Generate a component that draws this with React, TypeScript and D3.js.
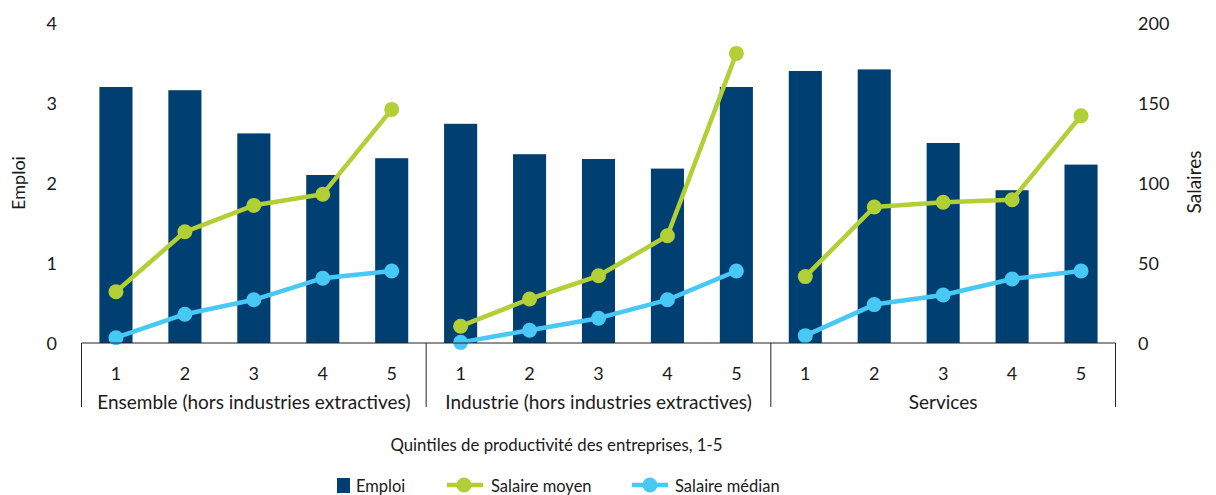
import React from 'react';
import * as d3 from 'd3';

const groups = ['Ensemble (hors industries extractives)', 'Industrie (hors industries extractives)', 'Services'];
const quintiles = ['1', '2', '3', '4', '5'];
const emploi = [3.2, 3.16, 2.62, 2.1, 2.31, 2.74, 2.36, 2.3, 2.18, 3.2, 3.4, 3.42, 2.5, 1.91, 2.23];
const salaireMoyen = [32, 69.5, 86, 93, 146, 10.5, 27.5, 42, 67, 181, 41.5, 85, 88, 89.5, 142];
const salaireMedian = [3.3, 18, 27, 40.5, 45, 0.4, 8, 15.5, 27, 45, 4.6, 24, 30, 40, 45];
const leftTicks = [0, 1, 2, 3, 4];
const rightTicks = [0, 50, 100, 150, 200];

const NAVY = '#003f72';
const GREEN = '#b3cf36';
const BLUE = '#47c8f5';
const FONT = 'Lato, "Noto Sans", sans-serif';
const TEXT = '#1a1a1a';

export default function App() {
  const width = 1216;
  const height = 495;
  const left = 81.5;
  const right = 1115.5;
  const top = 23;
  const bottom = 343;

  const keys = groups.flatMap((g, gi) => quintiles.map(q => `${gi}-${q}`));
  const x = d3.scaleBand<string>().domain(keys).range([left, right]).paddingInner(0.52).paddingOuter(0.26);
  const yL = d3.scaleLinear().domain([0, 4]).range([bottom, top]);
  const yR = d3.scaleLinear().domain([0, 200]).range([bottom, top]);
  const step = x.step();
  const cx = (i: number) => (x(keys[i]) as number) + x.bandwidth() / 2;

  const lineGen = (vals: number[], gi: number) =>
    d3.line<number>()
      .x((_, i) => cx(gi * 5 + i))
      .y(d => yR(d))(vals.slice(gi * 5, gi * 5 + 5)) as string;

  const series = [
    { vals: salaireMoyen, color: GREEN },
    { vals: salaireMedian, color: BLUE },
  ];

  const legendY = 485;

  return (
    <svg width={width} height={height} style={{ position: 'absolute', left: 0, top: 0 }} fontFamily={FONT}>
      {emploi.map((v, i) => (
        <rect key={i} x={x(keys[i])} y={yL(v)} width={x.bandwidth()} height={yL(0) - yL(v)} fill={NAVY} />
      ))}
      {series.map((s, si) => (
        <g key={si}>
          {groups.map((_, gi) => (
            <path key={gi} d={lineGen(s.vals, gi)} fill="none" stroke={s.color} strokeWidth={4.5} strokeLinejoin="round" />
          ))}
          {s.vals.map((v, i) => (
            <circle key={i} cx={cx(i)} cy={yR(v)} r={7.5} fill={s.color} />
          ))}
        </g>
      ))}
      {/* axis line + group separators */}
      <line x1={left} x2={right} y1={bottom} y2={bottom} stroke="#222" strokeWidth={1} />
      {[0, 1, 2, 3].map(k => (
        <line key={k} x1={left + k * 5 * step} x2={left + k * 5 * step} y1={bottom} y2={407} stroke="#222" strokeWidth={1} />
      ))}
      {keys.map((k, i) => (
        <text key={k} x={cx(i)} y={373} textAnchor="middle" dominantBaseline="central" fontSize={18} fill={TEXT}>
          {quintiles[i % 5]}
        </text>
      ))}
      {groups.map((g, gi) => (
        <text key={g} x={left + (gi * 5 + 2.5) * step} y={401} textAnchor="middle" dominantBaseline="central" fontSize={19} fill={TEXT}>
          {g}
        </text>
      ))}
      {leftTicks.map(t => (
        <text key={t} x={57} y={yL(t)} textAnchor="end" dominantBaseline="central" fontSize={18} fill={TEXT}>{t}</text>
      ))}
      {rightTicks.map(t => (
        <text key={t} x={1138} y={yR(t)} textAnchor="start" dominantBaseline="central" fontSize={18} fill={TEXT}>{t}</text>
      ))}
      <text transform={`translate(18,183) rotate(-90)`} textAnchor="middle" dominantBaseline="central" fontSize={18} fill={TEXT}>Emploi</text>
      <text transform={`translate(1193,182) rotate(-90)`} textAnchor="middle" dominantBaseline="central" fontSize={19} fill={TEXT}>Salaires</text>
      <text x={556.5} y={444} textAnchor="middle" dominantBaseline="central" fontSize={16.8} fill={TEXT}>
        Quintiles de productivité des entreprises, 1-5
      </text>
      {/* legend */}
      <g>
        <rect x={337} y={legendY - 7} width={13} height={15} fill={NAVY} />
        <text x={356} y={legendY + 1} dominantBaseline="central" fontSize={16.5} fill={TEXT}>Emploi</text>
        <line x1={447} x2={483} y1={legendY} y2={legendY} stroke={GREEN} strokeWidth={4.5} />
        <circle cx={464} cy={legendY} r={7.5} fill={GREEN} />
        <text x={491} y={legendY + 1} dominantBaseline="central" fontSize={16.5} fill={TEXT}>Salaire moyen</text>
        <line x1={632} x2={668} y1={legendY} y2={legendY} stroke={BLUE} strokeWidth={4.5} />
        <circle cx={650} cy={legendY} r={7.5} fill={BLUE} />
        <text x={675} y={legendY + 1} dominantBaseline="central" fontSize={16.5} fill={TEXT}>Salaire médian</text>
      </g>
    </svg>
  );
}
